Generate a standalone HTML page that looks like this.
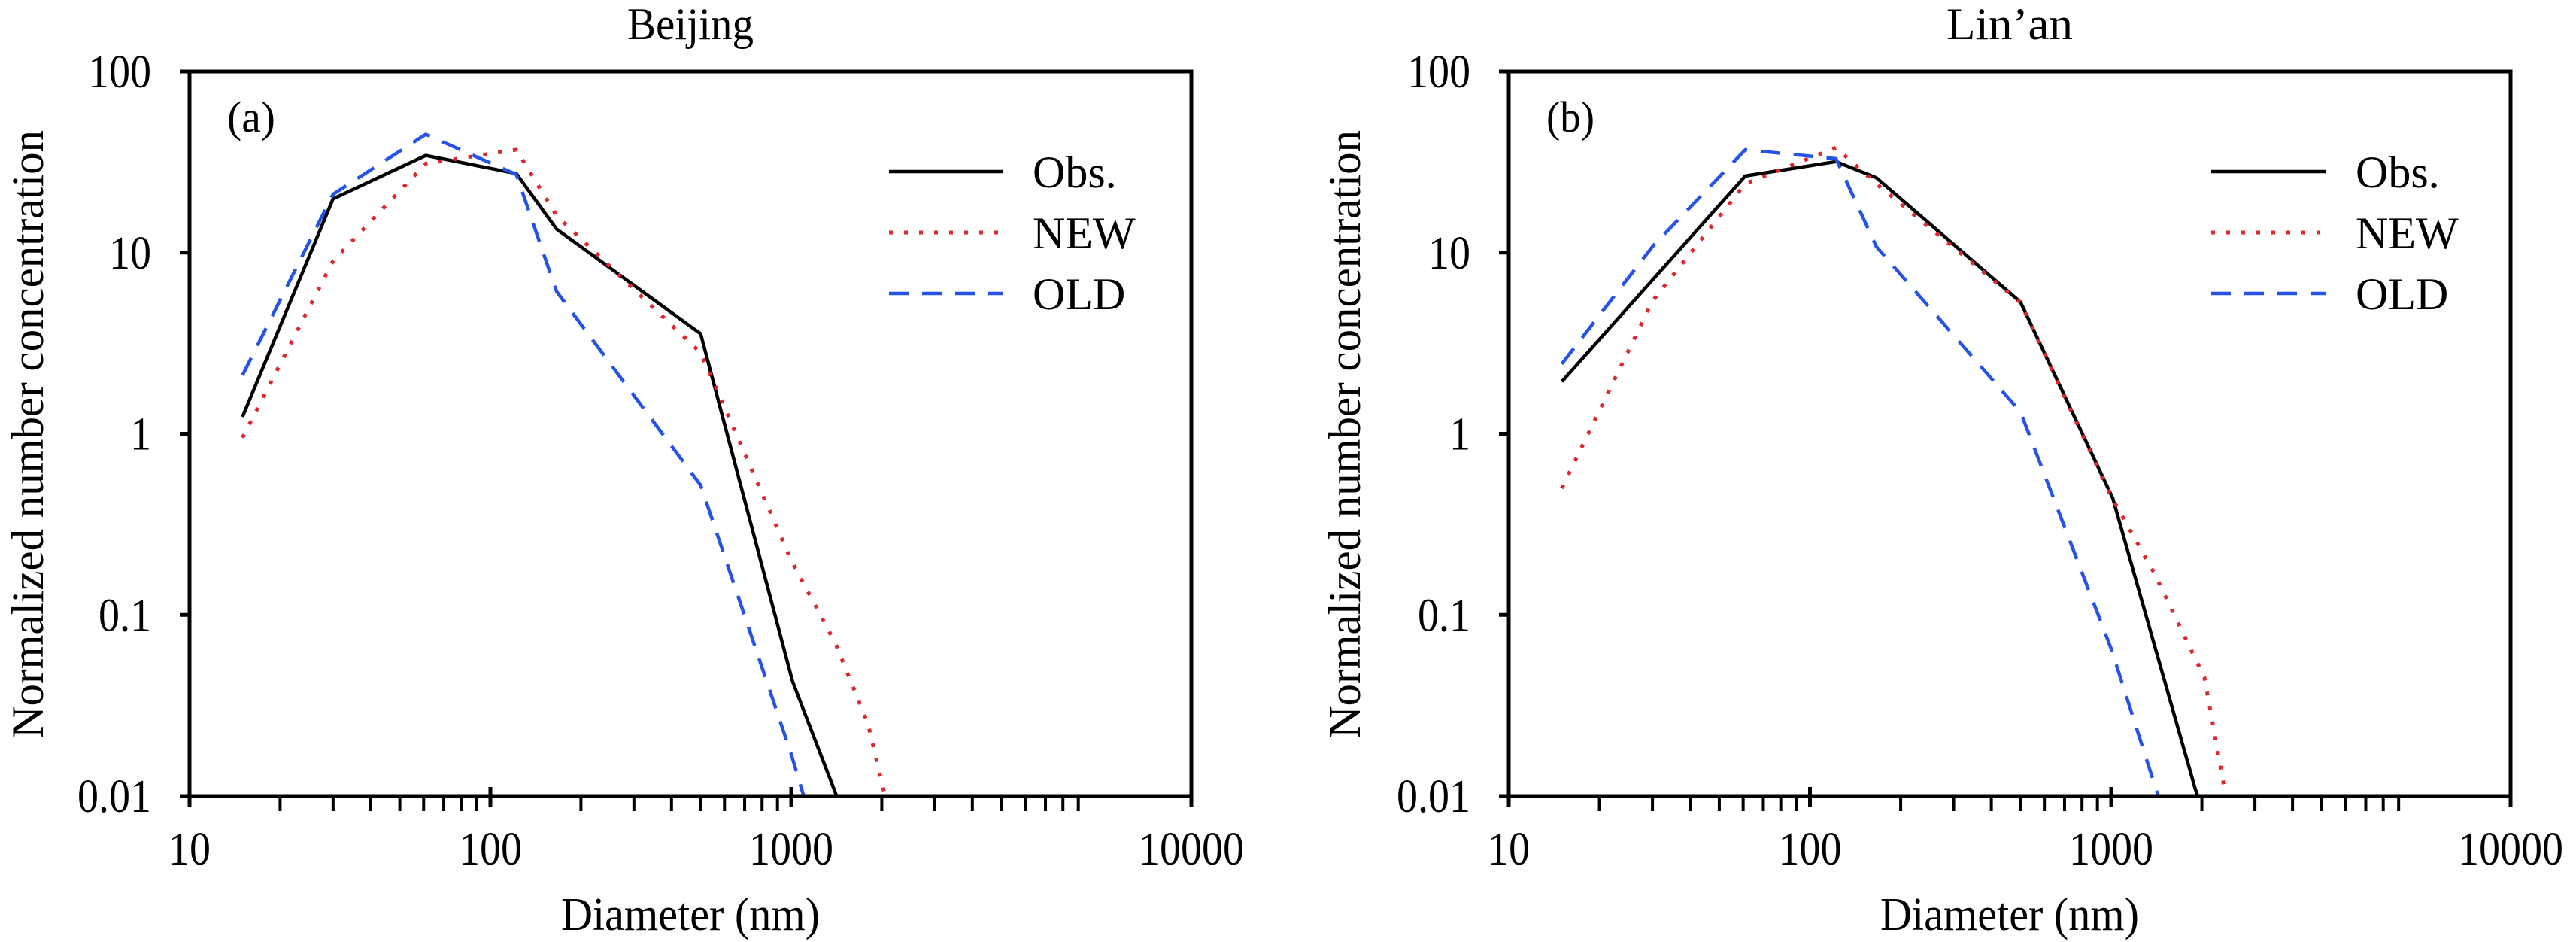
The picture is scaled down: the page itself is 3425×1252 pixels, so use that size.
<!DOCTYPE html>
<html><head><meta charset="utf-8"><style>
html,body{margin:0;padding:0;background:#fff;}
svg{display:block;}
text{font-family:"Liberation Serif",serif;fill:#000;}
</style></head>
<body>
<svg id="chart" width="3425" height="1252" viewBox="0 0 3425 1252" xmlns="http://www.w3.org/2000/svg"></svg>
<script>
// ---- data ----
const panelTitles = ["Beijing", "Lin\u2019an"];
const panelTags = ["(a)", "(b)"];
const seriesNames = ["Obs.", "NEW", "OLD"];
const xTickLabels = ["10", "100", "1000", "10000"];
const yTickLabels = ["0.01", "0.1", "1", "10", "100"];
// Beijing
const aObsX = [15, 30, 61, 122, 166, 500, 1010, 1416];
const aObsY = [1.24, 19.8, 34.4, 27.3, 13.5, 3.56, 0.043, 0.01];
const aNewX = [15, 30, 61, 122, 166, 500, 1000, 1400, 1800, 2050];
const aNewY = [0.95, 9, 31, 37, 16, 2.8, 0.2, 0.07, 0.025, 0.01];
const aOldX = [15, 30, 61, 122, 166, 500, 1000, 1100];
const aOldY = [2.1, 21, 45, 27, 6.1, 0.52, 0.017, 0.01];
// Lin'an
const bObsX = [15, 61, 122, 166, 500, 1012, 1900, 1960];
const bObsY = [1.94, 26.5, 31.8, 25.9, 5.33, 0.44, 0.011, 0.0095];
const bNewX = [15, 30, 61, 122, 166, 500, 1000, 1390, 2040, 2400];
const bNewY = [0.5, 5.4, 24, 38, 24, 5.3, 0.45, 0.17, 0.045, 0.01];
const bOldX = [15, 30, 61, 122, 166, 500, 1000, 1432];
const bOldY = [2.43, 10.8, 37, 33, 10.8, 1.32, 0.065, 0.01];

const NS = "http://www.w3.org/2000/svg";
const svg = document.getElementById("chart");
function mk(tag, attrs, parent) {
  const e = document.createElementNS(NS, tag);
  for (const k in attrs) e.setAttribute(k, attrs[k]);
  (parent || svg).appendChild(e);
  return e;
}
const panels = [
  {L: 252, R: 1584, T: 95, B: 1058, dec: 400, ytx: 57, legX: 1182, textX: 1373,
   series: [[aObsX, aObsY], [aNewX, aNewY], [aOldX, aOldY]]},
  {L: 2006, R: 3338, T: 95, B: 1058, dec: 400.5, ytx: 1808, legX: 2940, textX: 3132,
   series: [[bObsX, bObsY], [bNewX, bNewY], [bOldX, bOldY]]}
];
const styles = [
  {stroke: "#000", w: 4.5, dash: null},
  {stroke: "#e0262b", w: 5, dash: "5 15"},
  {stroke: "#2553e8", w: 4.5, dash: "26 18"}
];
const legY = [228, 309, 390];

panels.forEach((p, i) => {
  const g = mk("g", {});
  
  
  const xs = v => p.L + (Math.log10(v) - 1) * p.dec;
  const ys = v => p.B - (Math.log10(v) + 2) / 4 * (p.B - p.T);
  const cx = (p.L + p.R) / 2;

  const cp = mk("clipPath", {id: "clip" + i}, g);
  mk("rect", {x: p.L, y: p.T, width: p.R - p.L, height: p.B - p.T + 2}, cp);

  p.series.forEach((s, k) => {
    const st = styles[k];
    const d = s[0].map((x, j) => (j ? "L" : "M") + xs(x).toFixed(1) + " " + ys(s[1][j]).toFixed(1)).join(" ");
    const path = mk("path", {d: d, fill: "none", stroke: st.stroke, "stroke-width": st.w,
      "stroke-linejoin": "round", "clip-path": "url(#clip" + i + ")"}, g);
    if (st.dash) path.setAttribute("stroke-dasharray", st.dash);
    
    
  });

  const fr = mk("rect", {x: p.L, y: p.T, width: p.R - p.L, height: p.B - p.T, fill: "none", stroke: "#000", "stroke-width": 5}, g);
  
  

  // x ticks (last major tick sits at the right edge of the frame)
  for (let dec = 1; dec <= 4; dec++) {
    const v = Math.pow(10, dec);
    const x = dec === 4 ? p.R : xs(v);
    mk("line", {x1: x, x2: x, y1: p.B - 12, y2: p.B + 14, stroke: "#000", "stroke-width": 5}, g);
    const t = mk("text", {x: x, y: 1149, "font-size": 62, "text-anchor": "middle",
      textLength: xTickLabels[dec - 1].length * 28, lengthAdjust: "spacingAndGlyphs"}, g);
    t.textContent = xTickLabels[dec - 1];
    
    
    if (dec < 4) for (let m = 2; m <= 9; m++) {
      const xm = xs(m * v);
      mk("line", {x1: xm, x2: xm, y1: p.B, y2: p.B + 20, stroke: "#000", "stroke-width": 4}, g);
    }
  }
  for (let k = 0; k < 5; k++) {
    const y = ys(Math.pow(10, k - 2));
    mk("line", {x1: p.L - 13, x2: p.L, y1: y, y2: y, stroke: "#000", "stroke-width": 5}, g);
    const lab = yTickLabels[k];
    const len = lab.replace(".", "").length * 28 + (lab.includes(".") ? 14 : 0);
    const t = mk("text", {x: p.L - 51, y: y + 21, "font-size": 62, "text-anchor": "end",
      textLength: len, lengthAdjust: "spacingAndGlyphs"}, g);
    t.textContent = lab;
    
    
  }
  const tt = mk("text", {x: cx, y: 52, "font-size": 60, "text-anchor": "middle", textLength: 168, lengthAdjust: "spacingAndGlyphs"}, g);
  tt.textContent = panelTitles[i];
  
  
  const xt = mk("text", {x: cx, y: 1236, "font-size": 62, "text-anchor": "middle", textLength: 344, lengthAdjust: "spacingAndGlyphs"}, g);
  xt.textContent = "Diameter (nm)";
  
  
  const yt = mk("text", {x: 0, y: 0, "font-size": 60, "text-anchor": "middle", textLength: 808, lengthAdjust: "spacingAndGlyphs",
    transform: "translate(" + p.ytx + ",577) rotate(-90)"}, g);
  yt.textContent = "Normalized number concentration";
  
  
  const tag = mk("text", {x: p.L + 50, y: 175, "font-size": 58, textLength: 64, lengthAdjust: "spacingAndGlyphs"}, g);
  tag.textContent = panelTags[i];
  
  

  seriesNames.forEach((n, k) => {
    const st = styles[k];
    const lg = mk("g", {}, g);
    
    
    const ln = mk("line", {x1: p.legX, x2: p.legX + 152, y1: legY[k], y2: legY[k], stroke: st.stroke, "stroke-width": st.w}, lg);
    if (st.dash) ln.setAttribute("stroke-dasharray", st.dash);
    const lt = mk("text", {x: p.textX, y: legY[k] + 21, "font-size": 60}, lg);
    lt.textContent = n;
  });
});
</script>
</body></html>
